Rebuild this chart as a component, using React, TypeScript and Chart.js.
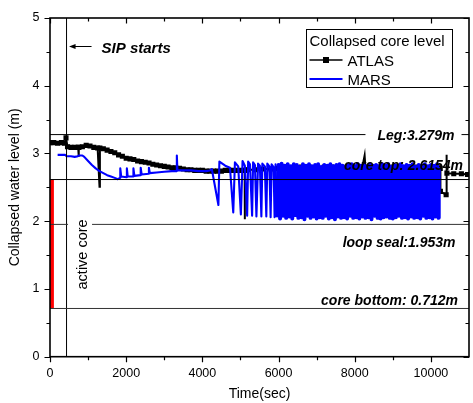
import React, { useEffect, useRef } from "react";
import { Chart, registerables } from "chart.js";

Chart.register(...registerables);

const FONT = "Arial, 'Liberation Sans', sans-serif";

const X_TICKS = [0, 2000, 4000, 6000, 8000, 10000];
const X_MINOR = [1000, 3000, 5000, 7000, 9000];
const Y_TICKS = [0, 1, 2, 3, 4, 5];
const Y_MINOR = [0.5, 1.5, 2.5, 3.5, 4.5];
const X_MAX = 11000;
const Y_MAX = 5;

const X_TITLE = "Time(sec)";
const Y_TITLE = "Collapsed water level (m)";
const LEGEND_TITLE = "Collapsed core level";
const SERIES_NAMES = ["ATLAS", "MARS"];

// ATLAS collapsed core level [time(s), level(m)]
const ATLAS: [number, number][] = [
  [0, 3.16], [100, 3.16], [200, 3.15], [300, 3.16], [380, 3.15], [420, 3.23], [460, 3.10],
  [550, 3.09], [650, 3.09], [740, 3.09], [750, 2.95], [760, 3.09], [850, 3.10], [950, 3.12],
  [1050, 3.11], [1150, 3.09], [1250, 3.08], [1300, 2.51], [1310, 3.08], [1400, 3.07],
  [1500, 3.05], [1600, 3.03], [1700, 3.01], [1800, 2.98], [1900, 2.96], [2000, 2.93],
  [2100, 2.92], [2200, 2.91], [2300, 2.89], [2400, 2.88], [2500, 2.87], [2600, 2.86],
  [2700, 2.84], [2800, 2.83], [2900, 2.82], [3000, 2.81], [3100, 2.80], [3200, 2.79],
  [3300, 2.79], [3400, 2.78], [3500, 2.77], [3600, 2.76], [3700, 2.76], [3800, 2.75],
  [3900, 2.75], [4000, 2.75], [4100, 2.74], [4200, 2.74], [4300, 2.74], [4400, 2.74],
  [4500, 2.74], [4600, 2.75], [4700, 2.75], [4800, 2.75], [4900, 2.75], [5000, 2.75],
  [5110, 2.75], [5115, 2.03], [5120, 2.75], [5200, 2.76], [5400, 2.76], [5600, 2.77],
  [5800, 2.77], [6000, 2.78], [6200, 2.79], [6400, 2.79], [6600, 2.80], [6800, 2.80],
  [7000, 2.80], [7200, 2.80], [7400, 2.80], [7600, 2.80], [7800, 2.80], [8000, 2.80],
  [8200, 2.80], [8260, 2.97], [8280, 2.80], [8400, 2.80], [8600, 2.80], [8800, 2.80],
  [9000, 2.80], [9200, 2.80], [9400, 2.80], [9600, 2.80], [9800, 2.80], [10000, 2.80],
  [10200, 2.79], [10245, 2.78], [10250, 2.44], [10400, 2.39], [10405, 2.98], [10420, 2.71],
  [10600, 2.70], [10800, 2.70], [10960, 2.69],
];

// MARS collapsed core level [time(s), level(m)]
const MARS_EARLY: [number, number][] = [
  [200, 2.98], [300, 2.98], [400, 2.98], [430, 2.96], [550, 2.96], [650, 2.95], [730, 2.96],
  [760, 2.97], [850, 2.97], [900, 2.95], [1000, 2.89], [1100, 2.83], [1200, 2.78],
  [1300, 2.74], [1400, 2.71], [1500, 2.68], [1600, 2.66], [1700, 2.64], [1780, 2.62],
  [1840, 2.64], [1845, 2.78], [1870, 2.66], [2010, 2.65], [2018, 2.78], [2040, 2.66],
  [2185, 2.66], [2190, 2.78], [2215, 2.67], [2376, 2.68], [2381, 2.79], [2405, 2.69],
  [2592, 2.70], [2597, 2.79], [2620, 2.71], [2800, 2.72], [3000, 2.73], [3200, 2.74],
  [3320, 2.74], [3330, 2.97], [3345, 2.75], [3500, 2.75], [3700, 2.75], [3900, 2.74],
  [4100, 2.74],
];

const MARS_SPARSE: [number, number][] = [
  [4200, 2.75], [4248, 2.77], [4421, 2.24], [4447, 2.88], [4600, 2.82], [4725, 2.79],
  [4811, 2.13], [4855, 2.87], [4941, 2.81], [5011, 2.10], [5055, 2.89], [5115, 2.82],
  [5176, 2.08], [5202, 2.88], [5250, 2.84], [5306, 2.08], [5332, 2.87], [5380, 2.83],
  [5419, 2.07], [5462, 2.85], [5510, 2.82], [5549, 2.07], [5575, 2.85], [5640, 2.81],
  [5679, 2.07], [5705, 2.85], [5760, 2.81], [5792, 2.06], [5818, 2.84], [5870, 2.80],
  [5896, 2.06], [5922, 2.84],
];

const MARS_DENSE: [number, number][] = [
  [5960, 2.06], [6000, 2.83], [6040, 2.04], [6080, 2.85], [6120, 2.08], [6160, 2.82],
  [6200, 2.05], [6240, 2.84], [6280, 2.07], [6320, 2.81], [6360, 2.04], [6400, 2.84],
  [6440, 2.09], [6480, 2.83], [6520, 2.05], [6560, 2.80], [6600, 2.06], [6640, 2.84],
  [6680, 2.03], [6720, 2.82], [6760, 2.08], [6800, 2.84], [6840, 2.05], [6880, 2.81],
  [6920, 2.07], [6960, 2.83], [7000, 2.04], [7040, 2.84], [7080, 2.06], [7120, 2.80],
  [7160, 2.05], [7200, 2.83], [7240, 2.08], [7280, 2.82], [7320, 2.04], [7360, 2.84],
  [7400, 2.06], [7440, 2.81], [7480, 2.03], [7520, 2.83], [7560, 2.07], [7600, 2.84],
  [7640, 2.05], [7680, 2.82], [7720, 2.06], [7760, 2.80], [7800, 2.04], [7840, 2.83],
  [7880, 2.08], [7920, 2.84], [7960, 2.05], [8000, 2.81], [8040, 2.06], [8080, 2.84],
  [8120, 2.04], [8160, 2.82], [8200, 2.07], [8240, 2.83], [8280, 2.05], [8320, 2.80],
  [8360, 2.06], [8400, 2.84], [8440, 2.03], [8480, 2.82], [8520, 2.08], [8560, 2.83],
  [8600, 2.05], [8640, 2.81], [8680, 2.04], [8720, 2.84], [8760, 2.06], [8800, 2.82],
  [8840, 2.07], [8880, 2.84], [8920, 2.05], [8960, 2.80], [9000, 2.04], [9040, 2.83],
  [9080, 2.06], [9120, 2.82], [9160, 2.08], [9200, 2.84], [9240, 2.05], [9280, 2.81],
  [9320, 2.06], [9360, 2.83], [9400, 2.04], [9440, 2.82], [9480, 2.07], [9520, 2.84],
  [9560, 2.05], [9600, 2.80], [9640, 2.06], [9680, 2.83], [9720, 2.04], [9760, 2.82],
  [9800, 2.08], [9840, 2.84], [9880, 2.05], [9920, 2.81], [9960, 2.06], [10000, 2.83],
  [10040, 2.04], [10080, 2.82], [10120, 2.07], [10160, 2.84], [10200, 2.05], [10205, 2.80],
];

const LEVEL_VALUES = [3.279, 2.6154, 1.953, 0.712];
const LEVEL_LABELS = ["Leg:3.279m", "core top: 2.6154m", "loop seal:1.953m", "core bottom: 0.712m"];
const SIP_TIME = 434;
const SIP_LABEL = "SIP starts";
const ACTIVE_CORE_LABEL = "active core";
const ACTIVE_CORE_TIME = 50;
const ACTIVE_CORE_RANGE = [0.712, 2.6154];

const toXY = (arr: [number, number][]) => arr.map(([x, y]) => ({ x, y }));

const overlayPlugin = {
  id: "overlay",
  afterDatasetsDraw(chart: any) {
    const { ctx, chartArea: ca, scales } = chart;
    const xs = scales.x;
    const ys = scales.y;
    ctx.save();
    // level labels
    ctx.font = `italic bold 14px ${FONT}`;
    ctx.textAlign = "right";
    ctx.textBaseline = "alphabetic";
    const offsets = [
      { dx: -14.5, dy: 5 },
      { dx: -6, dy: -10 },
      { dx: -13.5, dy: 22.6 },
      { dx: -11, dy: -3.6 },
    ];
    LEVEL_VALUES.forEach((v, i) => {
      const yp = ys.getPixelForValue(v);
      const xr = ca.right + offsets[i].dx;
      if (i === 0) {
        const w = ctx.measureText(LEVEL_LABELS[i]).width;
        ctx.fillStyle = "#fff";
        ctx.fillRect(xr - w - 12, yp - 8, w + 19, 16);
      }
      ctx.fillStyle = "#000";
      ctx.fillText(LEVEL_LABELS[i], xr, yp + offsets[i].dy);
    });

    // active core text (rotated) with white box
    const sipX = xs.getPixelForValue(SIP_TIME);
    const acY = ys.getPixelForValue(1.953) + 30;
    ctx.fillStyle = "#fff";
    ctx.fillRect(sipX + 1.5, acY - 37, 24, 74);
    ctx.save();
    ctx.translate(sipX + 20.6, acY);
    ctx.rotate(-Math.PI / 2);
    ctx.font = `14.5px ${FONT}`;
    ctx.textAlign = "center";
    ctx.fillStyle = "#000";
    ctx.fillText(ACTIVE_CORE_LABEL, 0, 0);
    ctx.restore();

    // SIP arrow and label
    const ay = ca.top + 28.5;
    ctx.strokeStyle = "#000";
    ctx.fillStyle = "#000";
    ctx.lineWidth = 1;
    ctx.beginPath();
    ctx.moveTo(sipX + 6, ay);
    ctx.lineTo(sipX + 25, ay);
    ctx.stroke();
    ctx.beginPath();
    ctx.moveTo(sipX + 2.5, ay);
    ctx.lineTo(sipX + 9, ay - 2.5);
    ctx.lineTo(sipX + 9, ay + 2.5);
    ctx.closePath();
    ctx.fill();
    ctx.font = `italic bold 15px ${FONT}`;
    ctx.textAlign = "left";
    ctx.fillText(SIP_LABEL, sipX + 35, ay + 6.8);
    ctx.restore();
  },
  afterDraw(chart: any) {
    const { ctx, chartArea: ca, scales } = chart;
    const xs = scales.x;
    const ys = scales.y;
    ctx.save();
    ctx.strokeStyle = "#000";
    // ticks
    ctx.lineWidth = 1.2;
    const tickX = (vals: number[], len: number) => {
      vals.forEach((v) => {
        const p = Math.round(xs.getPixelForValue(v)) + 0.5;
        ctx.beginPath();
        ctx.moveTo(p, ca.bottom);
        ctx.lineTo(p, ca.bottom + len);
        ctx.moveTo(p, ca.top);
        ctx.lineTo(p, ca.top + len);
        ctx.stroke();
      });
    };
    const tickY = (vals: number[], len: number) => {
      vals.forEach((v) => {
        const p = Math.round(ys.getPixelForValue(v)) + 0.5;
        ctx.beginPath();
        ctx.moveTo(ca.left, p);
        ctx.lineTo(ca.left - len, p);
        ctx.moveTo(ca.right, p);
        ctx.lineTo(ca.right - len, p);
        ctx.stroke();
      });
    };
    tickX(X_TICKS, 5.5);
    tickX(X_MINOR, 3.5);
    tickY(Y_TICKS, 5.5);
    tickY(Y_MINOR, 3.5);
    // frame
    ctx.lineWidth = 1.6;
    ctx.strokeRect(ca.left, ca.top, ca.right - ca.left, ca.bottom - ca.top);

    // legend
    const lx = ca.left + 256.5;
    const ly = ca.top + 11.5;
    ctx.lineWidth = 1;
    ctx.fillStyle = "#fff";
    ctx.fillRect(lx, ly, 146, 58);
    ctx.strokeRect(lx, ly, 146, 58);
    ctx.fillStyle = "#000";
    ctx.font = `15px ${FONT}`;
    ctx.textAlign = "left";
    ctx.textBaseline = "alphabetic";
    ctx.fillText(LEGEND_TITLE, lx + 3, ly + 16.5);
    // ATLAS
    ctx.lineWidth = 1.5;
    ctx.beginPath();
    ctx.moveTo(lx + 3, ly + 30.5);
    ctx.lineTo(lx + 36, ly + 30.5);
    ctx.stroke();
    ctx.fillRect(lx + 16.5, ly + 27.5, 6, 6);
    ctx.fillText(SERIES_NAMES[0], lx + 41, ly + 36);
    // MARS
    ctx.strokeStyle = "#0000ff";
    ctx.lineWidth = 1.8;
    ctx.beginPath();
    ctx.moveTo(lx + 3, ly + 49.5);
    ctx.lineTo(lx + 36, ly + 49.5);
    ctx.stroke();
    ctx.fillText(SERIES_NAMES[1], lx + 41, ly + 55);
    ctx.restore();
  },
};

export default function App() {
  const ref = useRef<HTMLCanvasElement>(null);
  useEffect(() => {
    document.body.style.margin = "0";
    const canvas = ref.current;
    if (!canvas) return;
    const hline = (v: number, color: string) => ({
      data: [{ x: 0, y: v }, { x: X_MAX, y: v }],
      borderColor: color,
      borderWidth: 1,
      pointRadius: 0,
      order: 0,
    });
    const denseStart = MARS_DENSE[0][0];
    const chart = new Chart(canvas, {
      type: "line",
      data: {
        datasets: [
          ...LEVEL_VALUES.map((v, i) => hline(v, i < 2 ? "#000" : "#333")),
          {
            data: [{ x: SIP_TIME, y: 0 }, { x: SIP_TIME, y: Y_MAX }],
            borderColor: "#000",
            borderWidth: 1,
            pointRadius: 0,
            order: 0,
          },
          {
            data: [
              { x: ACTIVE_CORE_TIME, y: ACTIVE_CORE_RANGE[0] },
              { x: ACTIVE_CORE_TIME, y: ACTIVE_CORE_RANGE[1] },
            ],
            borderColor: "#ff0000",
            borderWidth: 4,
            pointRadius: 0,
            order: 0,
          },
          {
            label: SERIES_NAMES[1],
            data: toXY([...MARS_EARLY, ...MARS_SPARSE, ...MARS_DENSE]),
            borderColor: "#0000ff",
            borderWidth: 2.1,
            borderJoinStyle: "round",
            pointRadius: 0,
            segment: {
              borderWidth: (c: any) => (c.p0.parsed.x >= denseStart ? 4 : 2.1),
            },
            order: 1,
          },
          {
            label: SERIES_NAMES[0],
            data: toXY(ATLAS),
            borderColor: "#000",
            borderWidth: 2,
            pointStyle: "rect",
            pointBackgroundColor: "#000",
            pointBorderWidth: 0,
            pointRadius: (c: any) => {
              if (c.type !== "data") return 3.6;
              const i = c.dataIndex;
              const v = ATLAS[i][1];
              const p = i > 0 ? ATLAS[i - 1][1] : v;
              const n = i < ATLAS.length - 1 ? ATLAS[i + 1][1] : v;
              return Math.abs(v - p) > 0.1 && Math.abs(v - n) > 0.1 ? 0 : 3.6;
            },
            order: 2,
          },
        ],
      },
      options: {
        animation: false,
        responsive: false,
        events: [],
        layout: { padding: { left: 0, top: 18, right: 0, bottom: 0 } },
        plugins: { legend: { display: false }, tooltip: { enabled: false } },
        scales: {
          x: {
            type: "linear",
            min: 0,
            max: X_MAX,
            afterBuildTicks: (s: any) => {
              s.ticks = X_TICKS.map((v) => ({ value: v }));
            },
            afterFit: (s: any) => {
              s.height = 46.3;
            },
            ticks: {
              font: { family: FONT, size: 12.5 },
              color: "#000",
              padding: 9,
              maxRotation: 0,
              callback: (v: any) => String(v),
            },
            grid: { display: false, drawTicks: false },
            border: { display: false },
            title: {
              display: true,
              text: X_TITLE,
              font: { family: FONT, size: 14 },
              color: "#000",
              padding: { top: 0, bottom: 0 },
            },
          },
          y: {
            type: "linear",
            min: 0,
            max: Y_MAX,
            afterBuildTicks: (s: any) => {
              s.ticks = Y_TICKS.map((v) => ({ value: v }));
            },
            afterFit: (s: any) => {
              s.width = 50;
            },
            ticks: {
              font: { family: FONT, size: 12.5 },
              color: "#000",
              padding: 10.5,
              callback: (v: any) => String(v),
            },
            grid: { display: false, drawTicks: false },
            border: { display: false },
            title: {
              display: true,
              text: Y_TITLE,
              font: { family: FONT, size: 14 },
              color: "#000",
              padding: { top: 7, bottom: 0 },
            },
          },
        },
      },
      plugins: [overlayPlugin],
    });
    return () => chart.destroy();
  }, []);
  return <canvas ref={ref} width={473} height={403} style={{ display: "block" }} />;
}
